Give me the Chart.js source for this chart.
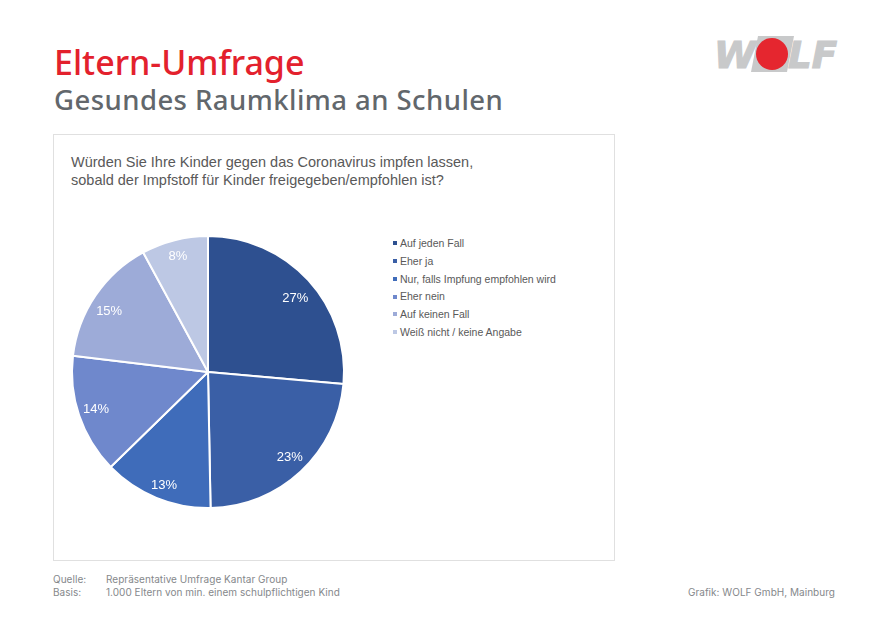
<!DOCTYPE html>
<html lang="de">
<head>
<meta charset="utf-8">
<title>Eltern-Umfrage</title>
<script src="https://cdn.jsdelivr.net/npm/chart.js@4"></script>
<style>
  html, body { margin: 0; background: #fff; }
  #page { position: relative; width: 872px; height: 623px; overflow: hidden; }
  #page > * { position: absolute; white-space: nowrap; }
  #title { left: 54px; top: 43px; font: 500 34px/38px "Noto Sans", sans-serif; letter-spacing: 0; color: #e3212d; }
  #subtitle { left: 54px; top: 83px; font: 500 27.5px/34px "Noto Sans", sans-serif; letter-spacing: 0.45px; color: #62676c; }
  #box { left: 53px; top: 134px; width: 560px; height: 425px; border: 1px solid #e0e0e0; }
  #question { left: 71px; top: 153px; font: 14.5px/18px "Liberation Sans", sans-serif; color: #595959; }
  #chartWrap { left: 63px; top: 227px; width: 290px; height: 290px; }
  #legend { left: 393px; top: 235px; font: 10.5px/17.8px "Liberation Sans", sans-serif; color: #595959; }
  #legend i { display: inline-block; width: 4px; height: 4px; margin: 0 3px 2px 0; vertical-align: middle; }
  .foot { font: 10px/12px Inter, sans-serif; letter-spacing: 0.03px; color: #85888b; }
</style>
</head>
<body>
<div id="page">
  <div id="title">Eltern-Umfrage</div>
  <div id="subtitle">Gesundes Raumklima an Schulen</div>
  <svg id="logo" style="left:710px;top:30px" width="132" height="48" viewBox="710 30 132 48">
    <polygon points="758,36 794,36 787,72 751,72" fill="#c8c9ca"/>
    <text x="714" y="68" font-family="DejaVu Sans" font-weight="bold" font-style="italic" font-size="38" fill="#c8c9ca" stroke="#c8c9ca" stroke-width="1.2" textLength="42" lengthAdjust="spacingAndGlyphs">W</text>
    <text x="788" y="68" font-family="DejaVu Sans" font-weight="bold" font-style="italic" font-size="38" fill="#c8c9ca" stroke="#c8c9ca" stroke-width="1.2" textLength="49" lengthAdjust="spacingAndGlyphs">LF</text>
    <circle cx="772" cy="54" r="16" fill="#e5262f"/>
  </svg>
  <div id="box"></div>
  <div id="question">Würden Sie Ihre Kinder gegen das Coronavirus impfen lassen,<br>sobald der Impfstoff für Kinder freigegeben/empfohlen ist?</div>
  <div id="chartWrap"><canvas id="pieChart" width="290" height="290"></canvas></div>
  <div id="legend"></div>
  <div class="foot" style="left:53px;top:573px">Quelle:</div>
  <div class="foot" style="left:53px;top:586px">Basis:</div>
  <div class="foot" style="left:106px;top:573px">Repräsentative Umfrage Kantar Group</div>
  <div class="foot" style="left:106px;top:586px">1.000 Eltern von min. einem schulpflichtigen Kind</div>
  <div class="foot" style="right:37px;top:586px">Grafik: WOLF GmbH, Mainburg</div>
</div>

<script>
const categories = [
  "Auf jeden Fall",
  "Eher ja",
  "Nur, falls Impfung empfohlen wird",
  "Eher nein",
  "Auf keinen Fall",
  "Weiß nicht / keine Angabe"
];
// slice sizes, printed labels differ slightly by rounding
const values = [26.4, 23.3, 13, 14.2, 15.2, 7.9];
const valueLabels = ["27%", "23%", "13%", "14%", "15%", "8%"];
const colors = ["#2e5090", "#3a5fa6", "#3f6cba", "#6f88cc", "#9dabd8", "#bdc8e4"];

// the original labels are not on one exact radius, small per-slice nudge
const labelNudge = [[0, 6], [1, -1], [1, 4], [0, -1], [-1, 6], [-1, -1]];

const sliceLabels = {
  id: "sliceLabels",
  afterDatasetsDraw(chart) {
    const ctx = chart.ctx;
    ctx.save();
    ctx.font = '13px "Liberation Sans", sans-serif';
    ctx.fillStyle = "#ffffff";
    ctx.textAlign = "center";
    ctx.textBaseline = "middle";
    chart.getDatasetMeta(0).data.forEach((arc, i) => {
      const mid = (arc.startAngle + arc.endAngle) / 2;
      const r = arc.outerRadius * 0.87;
      const x = arc.x + Math.cos(mid) * r + labelNudge[i][0];
      const y = arc.y + Math.sin(mid) * r + labelNudge[i][1];
      ctx.fillText(valueLabels[i], x, y);
    });
    ctx.restore();
  }
};

new Chart(document.getElementById("pieChart"), {
  type: "pie",
  data: {
    labels: categories,
    datasets: [{
      data: values,
      backgroundColor: colors,
      borderColor: "#ffffff",
      borderWidth: 2
    }]
  },
  options: {
    responsive: false,
    animation: false,
    layout: { padding: 8 },
    plugins: {
      legend: { display: false },
      tooltip: { enabled: false }
    }
  },
  plugins: [sliceLabels]
});

const legend = document.getElementById("legend");
categories.forEach((name, i) => {
  const row = document.createElement("div");
  const mark = document.createElement("i");
  mark.style.background = colors[i];
  row.appendChild(mark);
  row.appendChild(document.createTextNode(name));
  legend.appendChild(row);
});
</script>
</body>
</html>
